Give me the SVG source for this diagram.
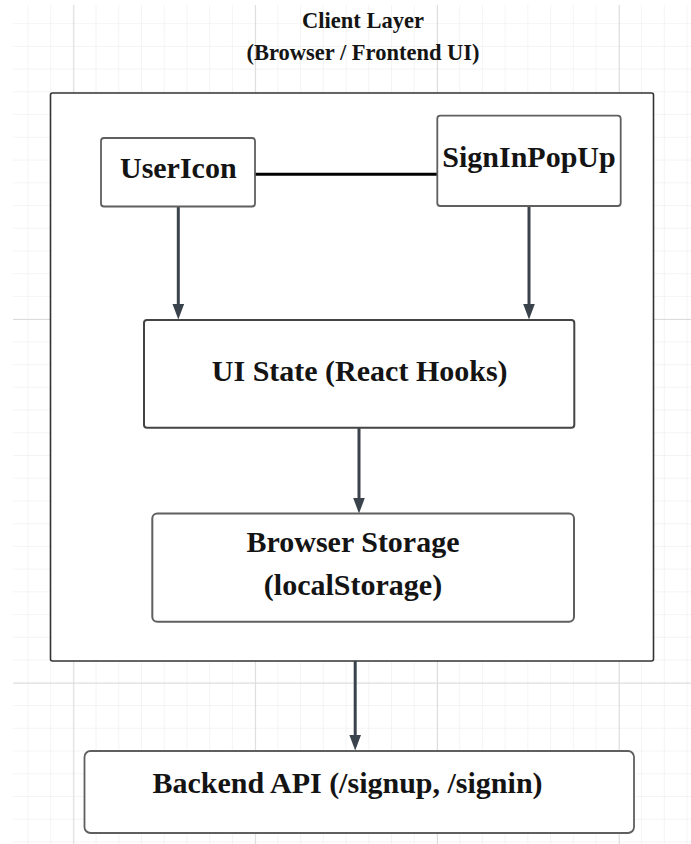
<svg xmlns="http://www.w3.org/2000/svg" width="691" height="844" viewBox="0 0 691 844">
  <defs>
    <pattern id="gridMinor" patternUnits="userSpaceOnUse" x="5.6" y="1.4" width="22.73" height="22.73">
      <path d="M22.73 0 V22.73 M0 22.73 H22.73" fill="none" stroke="#e9e9e9" stroke-width="1"/>
    </pattern>
    <marker id="arrow" markerUnits="userSpaceOnUse" markerWidth="16" markerHeight="12" viewBox="0 0 16 12" refX="8" refY="6" orient="auto">
      <path d="M0,0 L16,6 L0,12 z" fill="#3a434c"/>
    </marker>
    <style>
      .node { fill: #ffffff; stroke: #5f5f5f; stroke-width: 1.8; }
      .frame { fill: #ffffff; stroke: #333333; stroke-width: 1.6; }
      .label { font-family: "Liberation Serif", "Times New Roman", serif; font-weight: bold; font-size: 30px; fill: #141414; text-anchor: middle; }
      .title { font-family: "Liberation Serif", "Times New Roman", serif; font-weight: bold; font-size: 22.5px; fill: #141414; text-anchor: middle; }
      .arrow { fill: none; stroke: #3a434c; stroke-width: 3; marker-end: url(#arrow); }
      .link { fill: none; stroke: #000000; stroke-width: 3; }
      .major { stroke: #dcdcdc; stroke-width: 1; }
    </style>
  </defs>

  <rect x="0" y="0" width="691" height="844" fill="#ffffff"/>
  <g id="grid">
    <rect x="13" y="5" width="678" height="839" fill="url(#gridMinor)"/>
    <path class="major" d="M73.8 5 V844 M255.6 5 V844 M437.5 5 V844 M619.3 5 V844 M13 319.5 H691 M13 683.2 H691"/>
  </g>

  <g id="title">
    <text class="title" x="363" y="28.3">Client Layer</text>
    <text class="title" x="363" y="60">(Browser / Frontend UI)</text>
  </g>

  <g id="client-layer">
    <rect class="frame" x="50.5" y="93" width="603" height="568" rx="2"/>
  </g>

  <g id="connectors">
    <line class="link" x1="255" y1="174.3" x2="437" y2="174.3"/>
    <line class="arrow" x1="178.3" y1="206.5" x2="178.3" y2="311.5"/>
    <line class="arrow" x1="529" y1="206" x2="529" y2="311.5"/>
    <line class="arrow" x1="359" y1="428" x2="359" y2="505.5"/>
    <line class="arrow" x1="355.2" y1="661" x2="355.2" y2="742.5"/>
  </g>

  <g id="usericon">
    <rect class="node" x="101" y="138" width="154" height="68.5" rx="3"/>
    <text class="label" x="178.3" y="178.3">UserIcon</text>
  </g>

  <g id="signinpopup">
    <rect class="node" x="437.3" y="115.7" width="183.4" height="90.3" rx="3"/>
    <text class="label" x="529" y="167.3">SignInPopUp</text>
  </g>

  <g id="ui-state">
    <rect class="node" x="144" y="320" width="430.3" height="107.7" rx="3" style="stroke:#444444;stroke-width:2"/>
    <text class="label" x="359.7" y="380.7">UI State (React Hooks)</text>
  </g>

  <g id="browser-storage">
    <rect class="node" x="152.3" y="513.5" width="421.7" height="108.2" rx="5" style="stroke-width:2"/>
    <text class="label" x="353" y="551.7">Browser Storage</text>
    <text class="label" x="353" y="595">(localStorage)</text>
  </g>

  <g id="backend-api">
    <rect class="node" x="84.5" y="751" width="549.5" height="82" rx="6"/>
    <text class="label" x="347.5" y="792.7">Backend API (/signup, /signin)</text>
  </g>
</svg>
